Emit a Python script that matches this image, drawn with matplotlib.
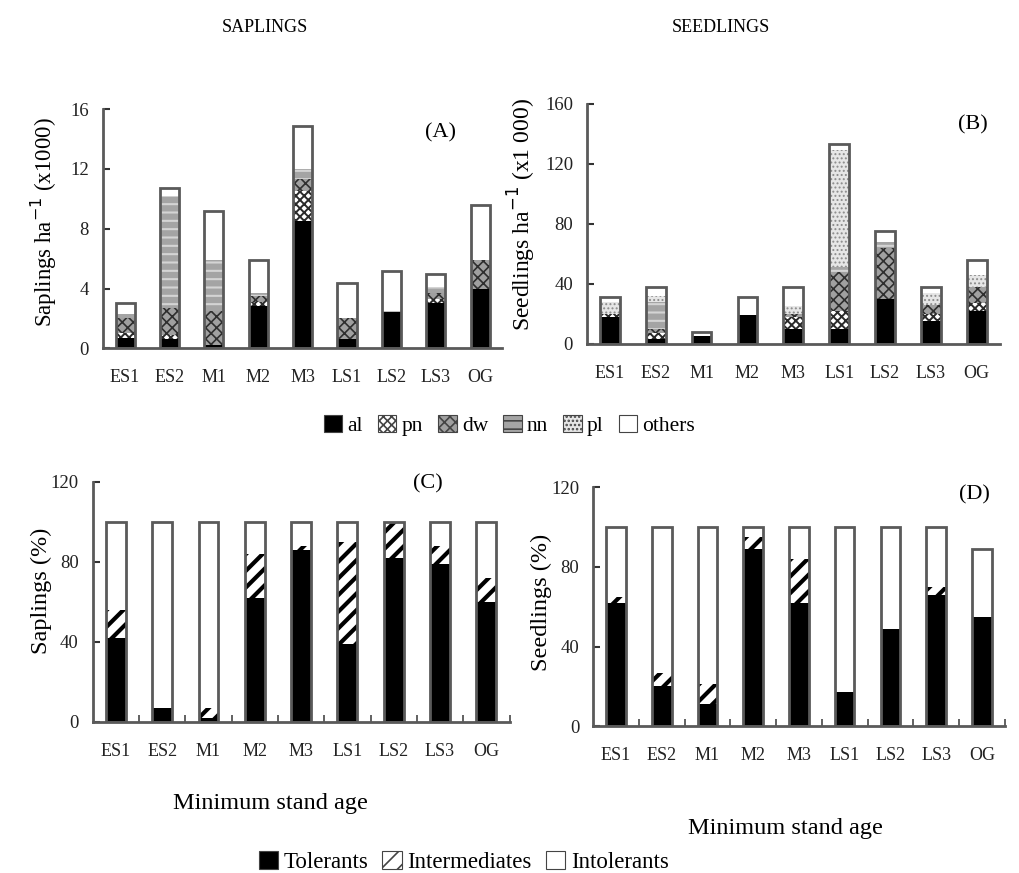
"""Sapling and seedling density / shade-tolerance composition by stand age."""

import matplotlib
matplotlib.use("Agg")
import matplotlib.pyplot as plt
from matplotlib.patches import Patch
import numpy as np

plt.rcParams["font.family"] = ["Liberation Serif", "DejaVu Serif"]
plt.rcParams["hatch.linewidth"] = 1.2

STANDS = ["ES1", "ES2", "M1", "M2", "M3", "LS1", "LS2", "LS3", "OG"]

# (A) saplings ha-1 (x1000), by species group
SAP_AL = [0.7, 0.6, 0.2, 2.8, 8.5, 0.6, 2.4, 3.0, 4.0]
SAP_PN = [0.3, 0.3, 0.0, 0.3, 2.0, 0.0, 0.0, 0.3, 0.0]
SAP_DW = [1.0, 1.8, 2.3, 0.4, 0.8, 1.4, 0.0, 0.4, 1.9]
SAP_NN = [0.3, 7.5, 3.4, 0.2, 0.7, 0.0, 0.1, 0.4, 0.0]
SAP_PL = [0.0, 0.0, 0.0, 0.0, 0.0, 0.0, 0.0, 0.0, 0.0]
SAP_OTHERS = [0.7, 0.5, 3.3, 2.2, 2.9, 2.4, 2.7, 0.9, 3.7]

# (B) seedlings ha-1 (x1000), by species group
SEED_AL = [18, 3, 5, 19, 10, 10, 30, 15, 22]
SEED_PN = [2, 4, 0, 0, 8, 12, 0, 5, 5]
SEED_DW = [0, 3, 0, 0, 2, 26, 34, 6, 11]
SEED_NN = [0, 18, 0, 0, 0, 3, 4, 0, 0]
SEED_PL = [8, 4, 0, 0, 5, 78, 0, 8, 8]
SEED_OTHERS = [3, 6, 3, 12, 13, 4, 7, 4, 10]

# (C) saplings (%), by shade tolerance
SAP_TOL = [42, 7, 2, 62, 86, 39, 82, 79, 60]
SAP_INT = [14, 0, 5, 22, 2, 51, 18, 9, 12]
SAP_INTOL = [44, 93, 93, 16, 12, 10, 0, 12, 28]

# (D) seedlings (%), by shade tolerance
SEED_TOL = [62, 20, 11, 89, 62, 17, 49, 66, 55]
SEED_INT = [3, 7, 10, 6, 22, 0, 0, 4, 0]
SEED_INTOL = [35, 73, 79, 5, 16, 83, 51, 30, 34]

SPECIES = ["al", "pn", "dw", "nn", "pl", "others"]
SPECIES_STYLE = {
    "al": dict(facecolor="black", hatch=None, hatchcolor="black", hlw=1.0),
    "pn": dict(facecolor="white", hatch="xxxx", hatchcolor="#2a2a2a", hlw=1.4),
    "dw": dict(facecolor="#a0a0a0", hatch="xxx", hatchcolor="#2f2f2f", hlw=1.2),
    "nn": dict(facecolor="#a4a4a4", hatch="--", hatchcolor="#d4d4d4", hlw=1.5),
    "pl": dict(facecolor="#e6e6e6", hatch="....", hatchcolor="#8c8c8c", hlw=0.9),
    "others": dict(facecolor="white", hatch=None, hatchcolor="white", hlw=1.0),
}
TOL_GROUPS = ["Tolerants", "Intermediates", "Intolerants"]
TOL_STYLE = {
    "Tolerants": dict(facecolor="black", hatch=None, hatchcolor="black", hlw=1.0),
    "Intermediates": dict(facecolor="white", hatch="//", hatchcolor="black", hlw=3.0),
    "Intolerants": dict(facecolor="white", hatch=None, hatchcolor="white", hlw=1.0),
}

EDGE = "#5a5a5a"
WIDTH = 0.43


def set_hatch_lw(patch, lw):
    if hasattr(patch, "set_hatch_linewidth"):
        patch.set_hatch_linewidth(lw)


def stacked(ax, layers, names, styles):
    x = np.arange(len(STANDS))
    bottom = np.zeros(len(STANDS))
    for vals, name in zip(layers, names):
        vals = np.asarray(vals, dtype=float)
        st = styles[name]
        with plt.rc_context({"hatch.linewidth": st["hlw"]}):
            bars = ax.bar(x, vals, WIDTH, bottom=bottom, color=st["facecolor"],
                          hatch=st["hatch"], edgecolor=st["hatchcolor"], linewidth=0)
        for b in bars:
            set_hatch_lw(b, st["hlw"])
        bottom += vals
    # outline of each stack
    ax.bar(x, bottom, WIDTH, fill=False, edgecolor=EDGE, linewidth=2.0)
    return bottom


def style_axis(ax, ymax, step, panel, px, py, inner_ticks=False):
    ax.set_xlim(-0.5, len(STANDS) - 0.5)
    ax.set_ylim(0, ymax)
    ax.set_yticks(np.arange(0, ymax + 0.1, step))
    for side in ("top", "right"):
        ax.spines[side].set_visible(False)
    for side in ("left", "bottom"):
        ax.spines[side].set_color("#5a5a5a")
        ax.spines[side].set_linewidth(2.0)
    ax.tick_params(axis="y", direction="in", length=5, width=1.5, color="#333333",
                   labelsize=13.5, pad=10, labelcolor="#222222")
    if inner_ticks:
        ax.set_xticks(np.arange(len(STANDS)) + 0.5, minor=True)
        ax.tick_params(axis="x", which="minor", direction="in", length=5, width=1.3, color="#555555")
    ax.set_xticks(np.arange(len(STANDS)), STANDS)
    ax.tick_params(axis="x", which="major", length=0, labelsize=13, pad=15, labelcolor="#222222")
    ax.text(px, py, panel, transform=ax.transAxes, fontsize=16, ha="center", va="center")


fig = plt.figure(figsize=(10.19, 8.73), dpi=100)

ax_a = fig.add_axes([0.101, 0.601, 0.392, 0.274])
ax_b = fig.add_axes([0.576, 0.606, 0.405, 0.275])
ax_c = fig.add_axes([0.091, 0.173, 0.409, 0.275])
ax_d = fig.add_axes([0.582, 0.168, 0.404, 0.274])

stacked(ax_a, [SAP_AL, SAP_PN, SAP_DW, SAP_NN, SAP_PL, SAP_OTHERS], SPECIES, SPECIES_STYLE)
style_axis(ax_a, 16, 4, "(A)", 0.845, 0.90)
ax_a.set_ylabel("Saplings ha$^{-1}$ (x1000)", fontsize=16.5)
ax_a.yaxis.set_label_coords(-0.110, 0.527)

stacked(ax_b, [SEED_AL, SEED_PN, SEED_DW, SEED_NN, SEED_PL, SEED_OTHERS], SPECIES, SPECIES_STYLE)
style_axis(ax_b, 160, 40, "(B)", 0.935, 0.912)
ax_b.set_ylabel("Seedlings ha$^{-1}$ (x1 000)", fontsize=17)
ax_b.yaxis.set_label_coords(-0.119, 0.54)

stacked(ax_c, [SAP_TOL, SAP_INT, SAP_INTOL], TOL_GROUPS, TOL_STYLE)
style_axis(ax_c, 120, 40, "(C)", 0.803, 0.99, inner_ticks=True)
ax_c.set_ylabel("Saplings (%)", fontsize=17.5)
ax_c.yaxis.set_label_coords(-0.098, 0.546)
ax_c.set_xlabel("Minimum stand age", fontsize=17.5)
ax_c.xaxis.set_label_coords(0.427, -0.296)

stacked(ax_d, [SEED_TOL, SEED_INT, SEED_INTOL], TOL_GROUPS, TOL_STYLE)
style_axis(ax_d, 120, 40, "(D)", 0.927, 0.967, inner_ticks=True)
ax_d.set_ylabel("Seedlings (%)", fontsize=17.5)
ax_d.yaxis.set_label_coords(-0.0995, 0.519)
ax_d.set_xlabel("Minimum stand age", fontsize=17.5)
ax_d.xaxis.set_label_coords(0.468, -0.385)

fig.text(0.26, 0.968, "SAPLINGS", fontsize=13, ha="center", va="center")
fig.text(0.707, 0.968, "SEEDLINGS", fontsize=13, ha="center", va="center")


def legend_handles(names, styles):
    return [Patch(facecolor=styles[n]["facecolor"], hatch=styles[n]["hatch"],
                  edgecolor="#444444", linewidth=0.8, label=n) for n in names]


fig.legend(handles=legend_handles(SPECIES, SPECIES_STYLE), loc="center",
           bbox_to_anchor=(0.5, 0.513), ncol=6, frameon=False, fontsize=15.5,
           handlelength=0.85, handleheight=0.85, handletextpad=0.25, columnspacing=0.7)
fig.legend(handles=legend_handles(TOL_GROUPS, TOL_STYLE), loc="center",
           bbox_to_anchor=(0.455, 0.0125), ncol=3, frameon=False, fontsize=16.5,
           handlelength=0.85, handleheight=0.85, handletextpad=0.25, columnspacing=0.6)

fig.savefig("out.png", dpi=100)
